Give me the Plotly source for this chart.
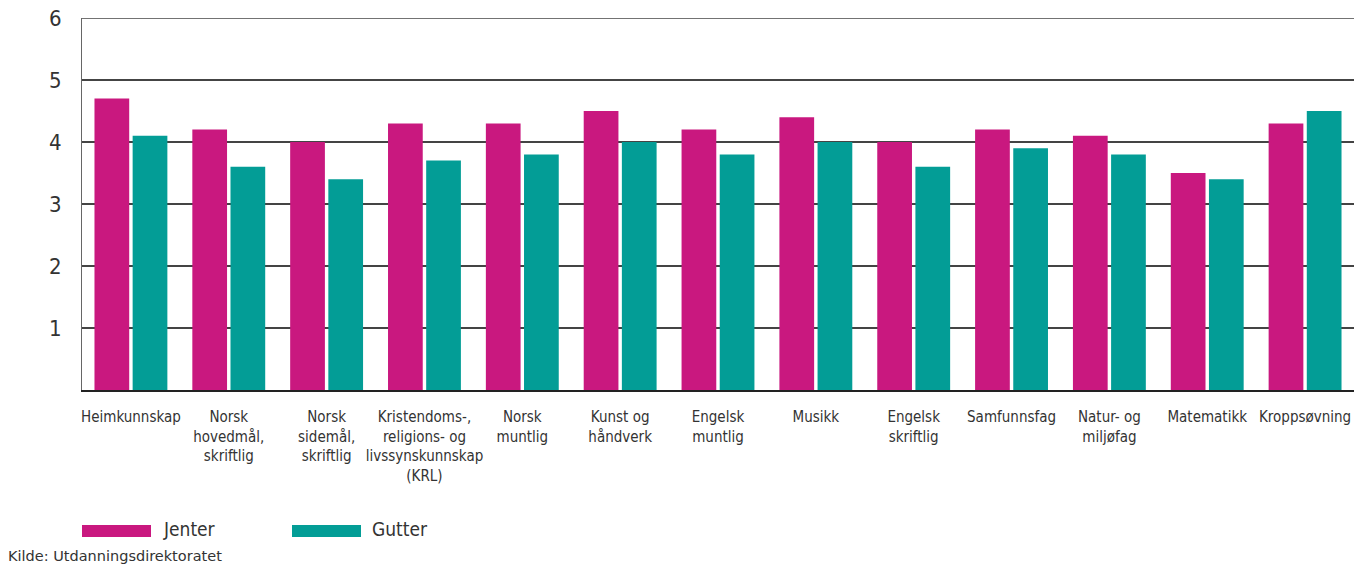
import plotly.graph_objects as go

subjects = [
    "Heimkunnskap",
    "Norsk<br>hovedmål,<br>skriftlig",
    "Norsk<br>sidemål,<br>skriftlig",
    "Kristendoms-,<br>religions- og<br>livssynskunnskap<br>(KRL)",
    "Norsk<br>muntlig",
    "Kunst og<br>håndverk",
    "Engelsk<br>muntlig",
    "Musikk",
    "Engelsk<br>skriftlig",
    "Samfunnsfag",
    "Natur- og<br>miljøfag",
    "Matematikk",
    "Kroppsøvning",
]
jenter = [4.7, 4.2, 4.0, 4.3, 4.3, 4.5, 4.2, 4.4, 4.0, 4.2, 4.1, 3.5, 4.3]
gutter = [4.1, 3.6, 3.4, 3.7, 3.8, 4.0, 3.8, 4.0, 3.6, 3.9, 3.8, 3.4, 4.5]
y_ticks = [1, 2, 3, 4, 5, 6]

PINK = "#C9187F"
TEAL = "#039D96"
GRID = "#444444"
NARROW = "DejaVu Sans Condensed"

fig = go.Figure()
fig.add_trace(go.Bar(name="Jenter", x=subjects, y=jenter, marker_color=PINK,
                     marker_line_width=0, showlegend=False))
fig.add_trace(go.Bar(name="Gutter", x=subjects, y=gutter, marker_color=TEAL,
                     marker_line_width=0, showlegend=False))

fig.update_layout(
    width=1354, height=565,
    margin=dict(l=82, r=0, t=18, b=175),
    paper_bgcolor="white", plot_bgcolor="white",
    barmode="group", bargap=0.22, bargroupgap=0.09,
    font=dict(family=NARROW, color="#333333"),
)
fig.update_yaxes(
    range=[0, 6], tickvals=y_ticks, showgrid=True, gridcolor=GRID, gridwidth=1.5,
    showline=True, linecolor="#666666", linewidth=1, zeroline=False,
    tickfont=dict(size=22, color="#333333", family=NARROW),
    ticklabelstandoff=15,
)
fig.update_xaxes(
    showline=True, linecolor="#222222", linewidth=2, showgrid=False,
    tickfont=dict(size=15, color="#333333", family=NARROW),
    ticklabelstandoff=12, tickangle=0,
)

# top gridline at the upper edge of the value range
fig.add_shape(type="line", xref="paper", yref="y", x0=0, x1=1, y0=y_ticks[-1], y1=y_ticks[-1],
              line=dict(color=GRID, width=1.5), layer="below")

# legend swatches and labels
fig.add_shape(type="rect", xref="paper", yref="paper",
              x0=0 / 1272, x1=69 / 1272, y0=-(525 - 390) / 372, y1=-(537 - 390) / 372,
              fillcolor=PINK, line_width=0)
fig.add_shape(type="rect", xref="paper", yref="paper",
              x0=210 / 1272, x1=279 / 1272, y0=-(525 - 390) / 372, y1=-(537 - 390) / 372,
              fillcolor=TEAL, line_width=0)
fig.add_annotation(text="Jenter", xref="paper", yref="paper", x=79 / 1272, y=-(529 - 390) / 372,
                   xanchor="left", yanchor="middle", showarrow=False,
                   font=dict(size=19, family=NARROW, color="#333333"))
fig.add_annotation(text="Gutter", xref="paper", yref="paper", x=288 / 1272, y=-(529 - 390) / 372,
                   xanchor="left", yanchor="middle", showarrow=False,
                   font=dict(size=19, family=NARROW, color="#333333"))
fig.add_annotation(text="Kilde: Utdanningsdirektoratet", xref="paper", yref="paper",
                   x=-76 / 1272, y=-(556 - 390) / 372, xanchor="left", yanchor="middle",
                   showarrow=False,
                   font=dict(size=14.5, family="DejaVu Sans", color="#333333"))

fig.write_html("out.html")
